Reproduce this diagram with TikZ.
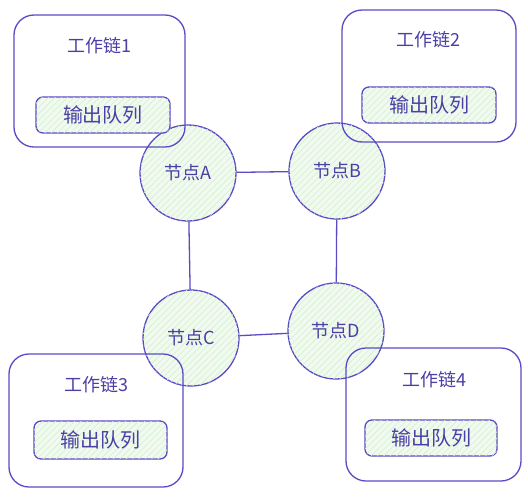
\documentclass[tikz,border=0pt]{standalone}
\usepackage{fontspec}
\setmainfont{Noto Sans CJK SC}
\usetikzlibrary{patterns.meta}
\definecolor{stroke}{HTML}{5A4BC4}
\definecolor{txt}{HTML}{4B3FA6}
\definecolor{bgreen}{HTML}{F1FAEF}
\definecolor{hatch}{HTML}{D3EFD0}
\tikzset{
  chainbox/.style={draw=stroke, line width=1.3pt, rounded corners=20pt},
  queuebox/.style={draw=stroke, line width=1.3pt, rounded corners=7pt, fill=bgreen,
    postaction={pattern={Lines[angle=45,distance=4.5pt,line width=0.6pt]}, pattern color=hatch}},
  nodecirc/.style={draw=stroke, line width=1.3pt, circle, minimum size=96pt, inner sep=0pt, fill=bgreen,
    postaction={pattern={Lines[angle=45,distance=4.5pt,line width=0.6pt]}, pattern color=hatch},
    text=txt, font=\fontsize{18}{20}\selectfont},
  title/.style={text=txt, font=\fontsize{18}{20}\selectfont, inner sep=0pt},
  qlabel/.style={text=txt, font=\fontsize{20}{22}\selectfont, inner sep=0pt},
  link/.style={draw=stroke, line width=1.3pt},
}
\begin{document}
\begin{tikzpicture}[x=1pt,y=-1pt]
\useasboundingbox (0,0) rectangle (528,496);
% nodes (circles)
\node[nodecirc] (A) at (188,173) {节点A};
\node[nodecirc] (B) at (337,171) {节点B};
\node[nodecirc] (C) at (191,338) {节点C};
\node[nodecirc] (D) at (336,331) {节点D};
% connectors
\draw[link] (A) -- (B);
\draw[link] (A) -- (C);
\draw[link] (B) -- (D);
\draw[link] (C) -- (D);
% chain 1
\draw[chainbox] (14,15) rectangle (185,147);
\node[title] (t1) at (99,46) {工作链1};
\draw[queuebox] (36,97) rectangle (170,133);
\node[qlabel] (q1) at (103,115) {输出队列};
% chain 2
\draw[chainbox] (342,10) rectangle (516,142);
\node[title] (t2) at (428,40) {工作链2};
\draw[queuebox] (362,87) rectangle (496,123);
\node[qlabel] (q2) at (429,105) {输出队列};
% chain 3
\draw[chainbox] (9,354) rectangle (183,487);
\node[title] (t3) at (96,385) {工作链3};
\draw[queuebox] (34,421) rectangle (167,459);
\node[qlabel] (q3) at (100,440) {输出队列};
% chain 4
\draw[chainbox] (346,348) rectangle (521,481);
\node[title] (t4) at (434,380) {工作链4};
\draw[queuebox] (365,420) rectangle (497,456);
\node[qlabel] (q4) at (431,438) {输出队列};
\end{tikzpicture}
\end{document}
